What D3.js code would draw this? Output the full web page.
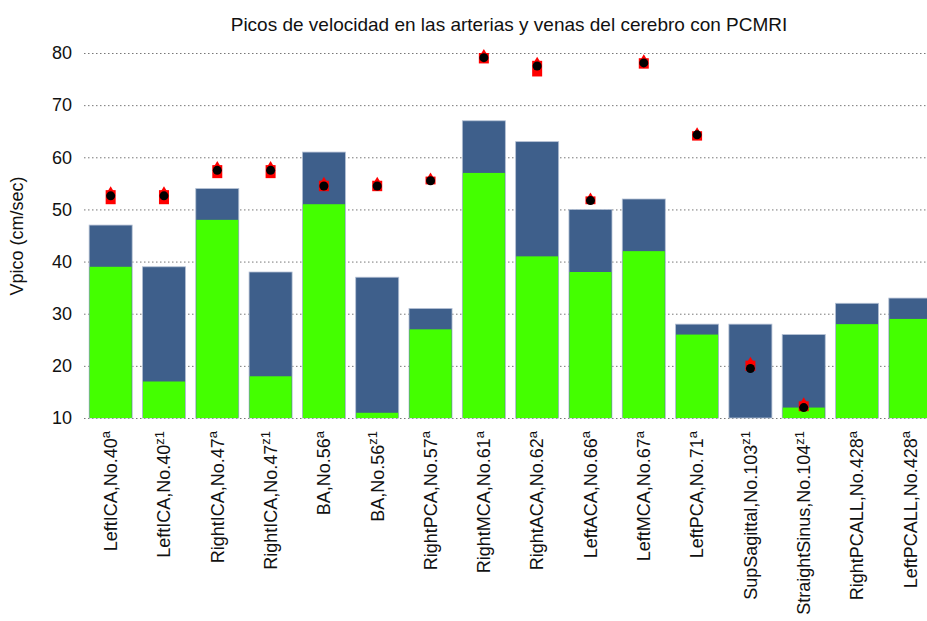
<!DOCTYPE html>
<html>
<head>
<meta charset="utf-8">
<script src="https://cdn.jsdelivr.net/npm/d3@7"></script>
<style>
  body { margin: 0; background: #fff; }
  text { font-family: "Liberation Sans", Arial, sans-serif; fill: #111; }
</style>
</head>
<body>
<div id="chart"></div>
<script>
// categories and superscripts
const names = ["LeftICA,No.40", "LeftICA,No.40", "RightICA,No.47", "RightICA,No.47", "BA,No.56", "BA,No.56",
  "RightPCA,No.57", "RightMCA,No.61", "RightACA,No.62", "LeftACA,No.66", "LeftMCA,No.67", "LeftPCA,No.71",
  "SupSagittal,No.103", "StraightSinus,No.104", "RightPCALL,No.428", "LeftPCALL,No.428"];
const sups = ["a", "z1", "a", "z1", "a", "z1", "a", "a", "a", "a", "a", "a", "z1", "z1", "a", "a"];

// green (lower) and total (blue top) values
const greenVals = [39, 17, 48, 18, 51, 11, 27, 57, 41, 38, 42, 26, 10, 12, 28, 29];
const totalVals = [47, 39, 54, 38, 61, 37, 31, 67, 63, 50, 52, 28, 28, 26, 32, 33];

// black dots and red ranges (null = none)
const dotVals = [52.6, 52.6, 57.5, 57.5, 54.5, 54.5, 55.5, 79.1, 77.5, 51.7, 78.1, 64.3, 19.5, 12.0, null, null];
const redLo = [51.0, 51.0, 56.0, 56.0, 53.5, 53.5, 54.8, 78.0, 75.5, 51.0, 77.0, 63.2, 19.0, 11.3, null, null];
const redHi = [53.7, 53.7, 58.5, 58.5, 55.5, 55.5, 56.3, 80.0, 78.5, 52.5, 79.0, 65.0, 21.0, 13.2, null, null];

const yTicks = [10, 20, 30, 40, 50, 60, 70, 80];

const width = 927, height = 621;
const svg = d3.select("#chart").append("svg").attr("width", width).attr("height", height);

const x = d3.scaleBand().domain(d3.range(names.length)).range([84, 937]).paddingInner(0.193).paddingOuter(0.0965);
const y = d3.scaleLinear().domain([10, 80]).range([418, 53]);

// grid
svg.append("g").selectAll("line").data(yTicks).enter().append("line")
  .attr("x1", 84).attr("x2", width)
  .attr("y1", d => y(d) + 0.5).attr("y2", d => y(d) + 0.5)
  .attr("stroke", "#777").attr("stroke-dasharray", "1.5,2.5");

svg.append("g").selectAll("text").data(yTicks).enter().append("text")
  .attr("x", 72).attr("y", d => y(d)).attr("dy", "0.35em")
  .attr("text-anchor", "end").attr("font-size", 18).text(d => d);

const bars = svg.append("g");
bars.selectAll(".total").data(totalVals).enter().append("rect")
  .attr("x", (d, i) => x(i)).attr("width", x.bandwidth())
  .attr("y", d => y(d)).attr("height", d => y(10) - y(d))
  .attr("fill", "#3e5f8b").attr("stroke", "#b4c0d4").attr("stroke-width", 0.8);
bars.selectAll(".green").data(greenVals).enter().append("rect")
  .attr("x", (d, i) => x(i) + 0.5).attr("width", x.bandwidth() - 1)
  .attr("y", d => y(d)).attr("height", d => y(10) - y(d))
  .attr("fill", "#44ff00");

// red markers
const marks = svg.append("g");
d3.range(names.length).filter(i => redLo[i] != null).forEach(i => {
  const cx = x(i) + x.bandwidth() / 2;
  const top = y(redHi[i]), bot = y(redLo[i]);
  marks.append("rect").attr("x", cx - 5).attr("width", 10)
    .attr("y", top).attr("height", bot - top).attr("fill", "#ff0000");
  marks.append("path")
    .attr("d", `M${cx - 3},${top + 1}L${cx},${top - 4}L${cx + 3},${top + 1}Z`)
    .attr("fill", "#ff0000");
  marks.append("circle").attr("cx", cx).attr("cy", y(dotVals[i])).attr("r", 4.5).attr("fill", "#000");
});

// x labels
const xl = svg.append("g");
names.forEach((n, i) => {
  const cx = x(i) + x.bandwidth() / 2;
  const t = xl.append("text")
    .attr("transform", `translate(${cx},431) rotate(-90)`)
    .attr("dy", "0.35em").attr("text-anchor", "end").attr("font-size", 18);
  t.append("tspan").text(n);
  t.append("tspan").attr("dy", "-0.5em").attr("font-size", 13).text(sups[i]);
});

svg.append("text").attr("x", 509).attr("y", 31).attr("text-anchor", "middle")
  .attr("font-size", 19).text("Picos de velocidad en las arterias y venas del cerebro con PCMRI");

svg.append("text").attr("transform", "translate(17,236) rotate(-90)")
  .attr("dy", "0.35em").attr("text-anchor", "middle").attr("font-size", 18).text("Vpico (cm/sec)");
</script>
</body>
</html>
